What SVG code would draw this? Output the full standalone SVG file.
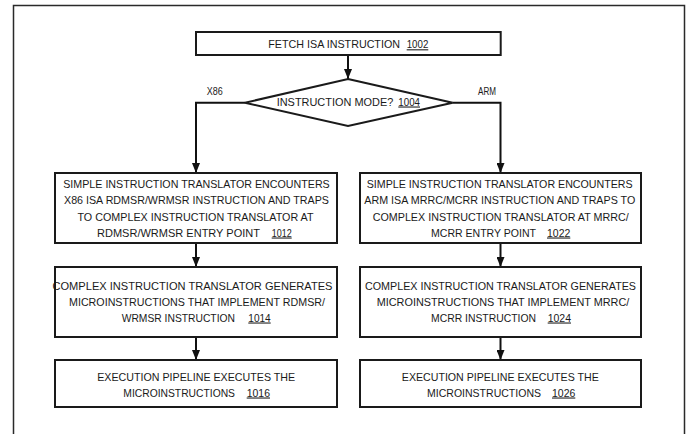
<svg xmlns="http://www.w3.org/2000/svg" width="692" height="434" viewBox="0 0 692 434">
<style>
.box{fill:#fff;stroke:#1a1a1a;stroke-width:2}
.frame{fill:none;stroke:#2a2a2a;stroke-width:1.5}
.conn{fill:none;stroke:#111;stroke-width:2}
text{font-family:"Liberation Sans",Arial,sans-serif;font-size:10.6px;fill:#1a1a1a;text-anchor:middle}
text.s{text-anchor:start}
.u{text-decoration:underline}
</style>
<defs>
<marker id="ah" viewBox="0 0 10 8" refX="10" refY="4" markerWidth="10" markerHeight="8" markerUnits="userSpaceOnUse" orient="auto">
<path d="M0,0 L10,4 L0,8 z" fill="#111"/>
</marker>
</defs>
<rect width="692" height="434" fill="#fff"/>
<path class="frame" d="M13.5,440 V5.5 H684.5 V440"/>

<g id="connectors">
<path class="conn" d="M348,55 V79" marker-end="url(#ah)"/>
<path class="conn" d="M245,102.7 H196 V173" marker-end="url(#ah)"/>
<path class="conn" d="M452.7,102.7 H500.5 V173" marker-end="url(#ah)"/>
<path class="conn" d="M196,243 V267" marker-end="url(#ah)"/>
<path class="conn" d="M196,337 V360" marker-end="url(#ah)"/>
<path class="conn" d="M500.5,243 V267" marker-end="url(#ah)"/>
<path class="conn" d="M500.5,337 V360" marker-end="url(#ah)"/>
</g>

<g id="n1002">
<rect class="box" x="196" y="32" width="304.7" height="23"/>
<text class="s" x="268.3" y="48.3" textLength="131.7" lengthAdjust="spacingAndGlyphs">FETCH ISA INSTRUCTION</text>
<text class="s u" x="406.7" y="48.3" textLength="21.6" lengthAdjust="spacingAndGlyphs">1002</text>
</g>

<g id="n1004">
<polygon class="box" points="348,79 452.7,102.7 348,126 245,102.7"/>
<text class="s" x="276.7" y="105.5" textLength="116.6" lengthAdjust="spacingAndGlyphs">INSTRUCTION MODE?</text>
<text class="s u" x="398.3" y="105.5" textLength="21.7" lengthAdjust="spacingAndGlyphs">1004</text>
</g>

<g id="labels">
<text x="214.7" y="95" textLength="16" lengthAdjust="spacingAndGlyphs">X86</text>
<text x="487" y="95" textLength="18" lengthAdjust="spacingAndGlyphs">ARM</text>
</g>

<g id="n1012">
<rect class="box" x="55" y="173" width="282" height="70"/>
<text x="196.5" y="188.3" textLength="266.5" lengthAdjust="spacingAndGlyphs">SIMPLE INSTRUCTION TRANSLATOR ENCOUNTERS</text>
<text x="196.5" y="204.3" textLength="265" lengthAdjust="spacingAndGlyphs">X86 ISA RDMSR/WRMSR INSTRUCTION AND TRAPS</text>
<text x="195.5" y="220.5" textLength="236" lengthAdjust="spacingAndGlyphs">TO COMPLEX INSTRUCTION TRANSLATOR AT</text>
<text class="s" x="97" y="236.5" textLength="163" lengthAdjust="spacingAndGlyphs">RDMSR/WRMSR ENTRY POINT</text>
<text class="s u" x="271.7" y="236.5" textLength="20" lengthAdjust="spacingAndGlyphs">1012</text>
</g>

<g id="n1014">
<rect class="box" x="55" y="267" width="282" height="70"/>
<text x="192.5" y="289.7" textLength="280" lengthAdjust="spacingAndGlyphs">COMPLEX INSTRUCTION TRANSLATOR GENERATES</text>
<text x="197" y="305.5" textLength="256" lengthAdjust="spacingAndGlyphs">MICROINSTRUCTIONS THAT IMPLEMENT RDMSR/</text>
<text class="s" x="121.7" y="321.5" textLength="113.3" lengthAdjust="spacingAndGlyphs">WRMSR INSTRUCTION</text>
<text class="s u" x="248.3" y="321.5" textLength="22.4" lengthAdjust="spacingAndGlyphs">1014</text>
</g>

<g id="n1016">
<rect class="box" x="55" y="360" width="282" height="47"/>
<text x="196.2" y="380.5" textLength="198" lengthAdjust="spacingAndGlyphs">EXECUTION PIPELINE EXECUTES THE</text>
<text class="s" x="123.3" y="396.5" textLength="111.7" lengthAdjust="spacingAndGlyphs">MICROINSTRUCTIONS</text>
<text class="s u" x="246.7" y="396.5" textLength="23.3" lengthAdjust="spacingAndGlyphs">1016</text>
</g>

<g id="n1022">
<rect class="box" x="360" y="173" width="281" height="70"/>
<text x="499.7" y="188.3" textLength="266" lengthAdjust="spacingAndGlyphs">SIMPLE INSTRUCTION TRANSLATOR ENCOUNTERS</text>
<text x="499.8" y="204.3" textLength="271" lengthAdjust="spacingAndGlyphs">ARM ISA MRRC/MCRR INSTRUCTION AND TRAPS TO</text>
<text x="500.7" y="220.5" textLength="256" lengthAdjust="spacingAndGlyphs">COMPLEX INSTRUCTION TRANSLATOR AT MRRC/</text>
<text class="s" x="431" y="236.5" textLength="105" lengthAdjust="spacingAndGlyphs">MCRR ENTRY POINT</text>
<text class="s u" x="547" y="236.5" textLength="23.3" lengthAdjust="spacingAndGlyphs">1022</text>
</g>

<g id="n1024">
<rect class="box" x="360" y="267" width="281" height="70"/>
<text x="500.5" y="289.7" textLength="271" lengthAdjust="spacingAndGlyphs">COMPLEX INSTRUCTION TRANSLATOR GENERATES</text>
<text x="503" y="305.5" textLength="252.6" lengthAdjust="spacingAndGlyphs">MICROINSTRUCTIONS THAT IMPLEMENT MRRC/</text>
<text class="s" x="431" y="321.5" textLength="105" lengthAdjust="spacingAndGlyphs">MCRR INSTRUCTION</text>
<text class="s u" x="547.7" y="321.5" textLength="23.3" lengthAdjust="spacingAndGlyphs">1024</text>
</g>

<g id="n1026">
<rect class="box" x="360" y="360" width="281" height="47"/>
<text x="500.3" y="380.5" textLength="197" lengthAdjust="spacingAndGlyphs">EXECUTION PIPELINE EXECUTES THE</text>
<text class="s" x="427" y="396.5" textLength="114" lengthAdjust="spacingAndGlyphs">MICROINSTRUCTIONS</text>
<text class="s u" x="552" y="396.5" textLength="23.3" lengthAdjust="spacingAndGlyphs">1026</text>
</g>
</svg>
